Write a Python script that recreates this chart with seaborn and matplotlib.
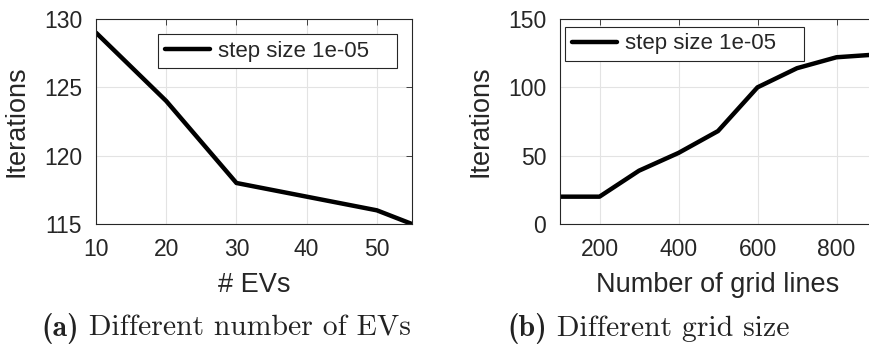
import matplotlib
matplotlib.use("Agg")
import matplotlib.pyplot as plt
import seaborn as sns
import pandas as pd
from matplotlib.offsetbox import TextArea, HPacker, AnnotationBbox

# Data
evs = [10, 20, 30, 40, 50, 55]
iters_evs = [129, 124, 118, 117, 116, 115]
grid_lines = [100, 200, 300, 400, 500, 600, 700, 800, 900]
iters_grid = [20, 20, 39, 52, 68, 100, 114, 122, 124]
legend_label = "step size 1e-05"

sns.set_style("whitegrid")
plt.rcParams['font.family'] = ['Liberation Sans', 'DejaVu Sans']
plt.rcParams.update({
    'xtick.direction': 'in', 'ytick.direction': 'in',
    'xtick.top': True, 'ytick.right': True,
    'xtick.major.size': 4, 'ytick.major.size': 4,
    'xtick.color': '#262626', 'ytick.color': '#262626',
})

W, H = 869, 347
fig = plt.figure(figsize=(W / 100, H / 100), dpi=100)

def px_axes(x0, y0, x1, y1):
    return fig.add_axes([x0 / W, 1 - y1 / H, (x1 - x0) / W, (y1 - y0) / H])

ax1 = px_axes(96, 19, 412, 224)
ax2 = px_axes(560, 19, 876, 224)

df1 = pd.DataFrame({"x": evs, "y": iters_evs, "s": legend_label})
df2 = pd.DataFrame({"x": grid_lines, "y": iters_grid, "s": legend_label})

for ax, df in ((ax1, df1), (ax2, df2)):
    sns.lineplot(data=df, x="x", y="y", hue="s", palette=["black"],
                 linewidth=3.2, ax=ax, clip_on=True)
    for sp in ax.spines.values():
        sp.set_color('#262626')
        sp.set_linewidth(0.8)
        sp.set_visible(True)
    ax.grid(True, color='#e3e3e3', linewidth=0.8)
    ax.tick_params(labelsize=16.5, width=0.6)
    ax.tick_params(axis='x', pad=10)
    ax.tick_params(axis='y', pad=10)
    ax.set_ylabel("Iterations", fontsize=19.5, color='#262626')

ax1.set_xlim(10, 55)
ax1.set_ylim(115, 130)
ax1.set_xticks([10, 20, 30, 40, 50])
ax1.set_yticks([115, 120, 125, 130])
ax1.set_xlabel("# EVs", fontsize=19.5, color='#262626')

ax2.set_xlim(100, 900)
ax2.set_ylim(0, 150)
ax2.set_xticks([200, 400, 600, 800])
ax2.set_yticks([0, 50, 100, 150])
ax2.set_xlabel("Number of grid lines", fontsize=19.5, color='#262626')

ax1.yaxis.set_label_coords(-0.209, 0.5)
ax2.yaxis.set_label_coords(-0.209, 0.5)
ax1.xaxis.set_label_coords(0.5, -0.234)
ax2.xaxis.set_label_coords(0.5, -0.234)

# legend boxes in pixel coords (x0, y0_top, x1, y1_bottom)
for ax, ox, (x0, y0, x1, y1) in ((ax1, 96, (158, 33, 397, 69)), (ax2, 560, (565, 27, 804, 61))):
    bx0 = (x0 - ox) / 316
    bw = (x1 - x0) / 316
    byc = 1 - ((y0 + y1) / 2 - 19) / 205
    leg = ax.legend(loc='center left', fontsize=16, mode='expand',
                    frameon=True, fancybox=False, handlelength=2.05,
                    handletextpad=0.35, borderpad=0.3, borderaxespad=0,
                    title=None,
                    bbox_to_anchor=(bx0, byc, bw, 0),
                    bbox_transform=ax.transAxes)
    leg.get_frame().set_edgecolor('#262626')
    leg.get_frame().set_linewidth(0.8)
    leg.get_frame().set_alpha(1)

# Captions
for cx, label, rest in ((226, "(a)", " Different number of EVs"), (648, "(b)", " Different grid size")):
    a = TextArea(label, textprops=dict(fontfamily='cmb10', fontsize=21.4, color='#222222'))
    b = TextArea(rest, textprops=dict(fontfamily='cmr10', fontsize=21.4, color='#222222'))
    box = HPacker(children=[a, b], align='baseline', pad=0, sep=0)
    ab = AnnotationBbox(box, (cx / W, 1 - 328 / H), xycoords='figure fraction',
                        frameon=False, box_alignment=(0.5, 0.5))
    fig.add_artist(ab)

fig.savefig("out.png", dpi=100)
